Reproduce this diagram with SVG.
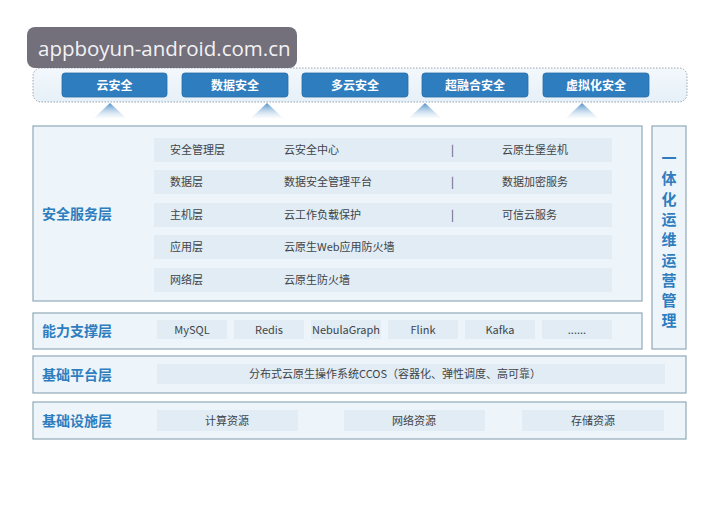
<svg xmlns="http://www.w3.org/2000/svg" width="720" height="509" viewBox="0 0 720 509">
<defs>
<style>
.panel{fill:#eef5fa;stroke:#8fa9b8;stroke-width:1.2}
.row{fill:#e1ecf5}
.btn{fill:#2e7dbf;stroke:#2a6ea8;stroke-width:0.8}
.btnt{font-family:"Noto Sans CJK SC","Noto Sans",sans-serif;font-size:12px;font-weight:bold;fill:#ffffff;text-anchor:middle}
.lbl{font-family:"Noto Sans CJK SC","Noto Sans",sans-serif;font-size:14px;font-weight:bold;fill:#2e7dbf}
.t{font-family:"Noto Sans CJK SC","Noto Sans",sans-serif;font-size:11px;fill:#404448}
.tc{font-family:"Noto Sans CJK SC","Noto Sans",sans-serif;font-size:11px;fill:#404448;text-anchor:middle}
.v{font-family:"Noto Sans CJK SC","Noto Sans",sans-serif;font-size:15px;font-weight:bold;fill:#2e7dbf;text-anchor:middle}
</style>
<linearGradient id="tri" x1="0" y1="0" x2="0" y2="1">
<stop offset="0" stop-color="#4f8fc8"/>
<stop offset="1" stop-color="#e6f0f8" stop-opacity="0.3"/>
</linearGradient>
<linearGradient id="topbg" x1="0" y1="0" x2="0" y2="1">
<stop offset="0" stop-color="#f3f8fc"/>
<stop offset="1" stop-color="#e6f0f8"/>
</linearGradient>
</defs>
<rect width="720" height="509" fill="#ffffff"/>

<g id="top-bar">
<rect x="33" y="68" width="654" height="34" rx="8" fill="url(#topbg)" stroke="#9aa5b0" stroke-width="1" stroke-dasharray="1.5 1.5"/>
</g>
<g id="n-yunanquan"><rect class="btn" x="62" y="73" width="105" height="24" rx="3"/><text class="btnt" x="114.5" y="89.5">云安全</text></g>
<g id="n-shujuanquan"><rect class="btn" x="182" y="73" width="106" height="24" rx="3"/><text class="btnt" x="235" y="89.5">数据安全</text></g>
<g id="n-duoyunanquan"><rect class="btn" x="302" y="73" width="106" height="24" rx="3"/><text class="btnt" x="355" y="89.5">多云安全</text></g>
<g id="n-chaoronghe"><rect class="btn" x="422" y="73" width="106" height="24" rx="3"/><text class="btnt" x="475" y="89.5">超融合安全</text></g>
<g id="n-xunihua"><rect class="btn" x="543" y="73" width="106" height="24" rx="3"/><text class="btnt" x="596" y="89.5">虚拟化安全</text></g>

<g id="connectors">
<polygon points="110,103 94,118 126,118" fill="url(#tri)"/>
<polygon points="267,103 251,118 283,118" fill="url(#tri)"/>
<polygon points="425,103 409,118 441,118" fill="url(#tri)"/>
<polygon points="582,103 566,118 598,118" fill="url(#tri)"/>
</g>

<g id="security-service">
<rect class="panel" x="33" y="126" width="609" height="175"/>
<text class="lbl" x="42" y="219">安全服务层</text>
<rect class="row" x="154" y="138" width="458" height="24"/>
<rect class="row" x="154" y="170" width="458" height="24"/>
<rect class="row" x="154" y="203" width="458" height="24"/>
<rect class="row" x="154" y="235" width="458" height="24"/>
<rect class="row" x="154" y="268" width="458" height="24"/>
<text class="t" x="170" y="154">安全管理层</text><text class="t" x="284" y="154">云安全中心</text><text class="t" x="451" y="154">|</text><text class="t" x="502" y="154">云原生堡垒机</text>
<text class="t" x="170" y="186">数据层</text><text class="t" x="284" y="186">数据安全管理平台</text><text class="t" x="451" y="186">|</text><text class="t" x="502" y="186">数据加密服务</text>
<text class="t" x="170" y="219">主机层</text><text class="t" x="284" y="219">云工作负载保护</text><text class="t" x="451" y="219">|</text><text class="t" x="502" y="219">可信云服务</text>
<text class="t" x="170" y="251">应用层</text><text class="t" x="284" y="251">云原生Web应用防火墙</text>
<text class="t" x="170" y="284">网络层</text><text class="t" x="284" y="284">云原生防火墙</text>
</g>

<g id="ops-management">
<rect class="panel" x="652" y="126" width="34" height="223"/>
<text class="v" x="669" y="164">一</text>
<text class="v" x="669" y="184">体</text>
<text class="v" x="669" y="205">化</text>
<text class="v" x="669" y="225">运</text>
<text class="v" x="669" y="245">维</text>
<text class="v" x="669" y="266">运</text>
<text class="v" x="669" y="286">营</text>
<text class="v" x="669" y="306">管</text>
<text class="v" x="669" y="326">理</text>
</g>

<g id="capability">
<rect class="panel" x="33" y="313" width="609" height="36"/>
<text class="lbl" x="42" y="336">能力支撑层</text>
<rect class="row" x="157" y="320" width="70" height="19"/><text class="tc" x="192" y="333.5">MySQL</text>
<rect class="row" x="234" y="320" width="70" height="19"/><text class="tc" x="269" y="333.5">Redis</text>
<rect class="row" x="311" y="320" width="70" height="19"/><text class="tc" x="346" y="333.5">NebulaGraph</text>
<rect class="row" x="388" y="320" width="70" height="19"/><text class="tc" x="423" y="333.5">Flink</text>
<rect class="row" x="465" y="320" width="70" height="19"/><text class="tc" x="500" y="333.5">Kafka</text>
<rect class="row" x="542" y="320" width="70" height="19"/><text class="tc" x="577" y="333.5">......</text>
</g>

<g id="platform">
<rect class="panel" x="33" y="356" width="653" height="37"/>
<text class="lbl" x="42" y="380">基础平台层</text>
<rect class="row" x="157" y="364" width="508" height="20"/>
<text class="tc" x="395" y="378">分布式云原生操作系统CCOS（容器化、弹性调度、高可靠）</text>
</g>

<g id="infrastructure">
<rect class="panel" x="33" y="402" width="653" height="37"/>
<text class="lbl" x="42" y="426">基础设施层</text>
<rect class="row" x="157" y="410" width="141" height="21"/><text class="tc" x="227" y="424.5">计算资源</text>
<rect class="row" x="344" y="410" width="141" height="21"/><text class="tc" x="414" y="424.5">网络资源</text>
<rect class="row" x="522" y="410" width="142" height="21"/><text class="tc" x="593" y="424.5">存储资源</text>
</g>

<g id="watermark">
<rect x="27" y="27" width="270" height="41" rx="8" fill="#6b6774" fill-opacity="0.95"/>
<text x="38" y="56" font-family="'Open Sans','DejaVu Sans',sans-serif" font-size="20.5" fill="#f2f2f4">appboyun-android.com.cn</text>
</g>
</svg>
